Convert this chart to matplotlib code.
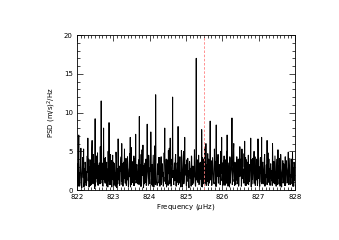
import numpy as np
import matplotlib
matplotlib.use("Agg")
import matplotlib.pyplot as plt
from matplotlib.ticker import MultipleLocator

# power spectrum from 822 to 828 muHz: main bins and the half-bins between them
f_start, f_step = 822.0, 1.0/120.0
psd = [
    1.2, 3.4, 0.5, 7.1, 2.2, 0.8, 4.1, 1.6, 0.3, 2.9, 3.7, 5.3, 1.1, 0.6, 3.2, 2.4, 0.9, 4.4, 6.7, 1.8,
    0.4, 2.7, 3.9, 1.3, 0.7, 6.4, 2.1, 4.6, 1.0, 0.2, 9.2, 3.1, 1.5, 2.6, 4.8, 0.6, 1.9, 3.5, 0.8, 2.3,
    11.5, 1.4, 3.3, 0.5, 8.0, 2.8, 1.2, 4.2, 0.9, 3.6, 1.7, 0.4, 2.5, 8.7, 3.0, 1.1, 0.7, 3.8, 2.0, 4.5,
    1.3, 0.6, 3.4, 2.2, 1.0, 4.0, 0.3, 2.7, 6.6, 1.5, 3.1, 0.8, 2.4, 4.3, 6.0, 1.2, 0.5, 3.6, 2.9, 1.7,
    0.9, 4.1, 2.0, 1.3, 3.5, 0.4, 2.6, 4.7, 6.8, 1.6, 0.7, 3.0, 2.3, 1.1, 4.4, 0.6, 2.8, 7.2, 1.4, 3.3,
    0.8, 2.1, 3.9, 9.5, 1.2, 0.5, 4.6, 2.5, 1.9, 5.8, 0.3, 3.2, 2.7, 1.0, 4.0, 1.6, 8.5, 2.2, 0.6, 3.7,
    1.4, 2.9, 7.5, 0.7, 3.3, 1.8, 4.5, 0.4, 2.4, 3.6, 12.3, 1.1, 0.9, 3.0, 2.0, 4.2, 1.5, 0.5, 2.8, 4.3,
    1.0, 3.4, 2.3, 0.6, 4.8, 8.0, 1.7, 2.6, 0.4, 3.9, 1.2, 5.1, 2.1, 0.8, 6.7, 3.2, 1.4, 4.0, 12.0, 2.5,
    0.7, 3.5, 1.9, 4.6, 0.5, 2.7, 3.1, 8.2, 1.3, 0.9, 4.3, 2.2, 1.6, 3.8, 0.4, 2.9, 5.0, 1.1, 6.8, 2.4,
    3.3, 0.6, 1.8, 4.1, 2.5, 0.3, 3.7, 1.5, 2.8, 4.4, 1.0, 0.7, 3.0, 2.2, 5.2, 1.3, 0.5, 17.0, 2.6, 3.9,
    1.2, 4.5, 0.8, 2.9, 3.6, 1.7, 7.8, 0.4, 2.3, 4.0, 1.4, 3.2, 0.9, 6.0, 2.7, 1.1, 4.7, 0.6, 3.4, 2.0,
    8.9, 1.5, 3.0, 0.7, 4.2, 2.4, 1.0, 5.3, 3.7, 0.5, 8.4, 2.1, 1.8, 4.6, 0.9, 3.3, 2.6, 1.2, 4.9, 6.8,
    2.0, 0.6, 3.8, 4.4, 1.3, 2.7, 0.8, 5.0, 7.1, 1.6, 3.5, 2.2, 0.4, 4.1, 1.9, 3.0, 9.3, 1.1, 2.8, 6.0,
    1.4, 3.6, 0.7, 2.5, 4.3, 1.0, 3.1, 0.5, 2.9, 5.6, 1.8, 4.0, 0.9, 3.4, 2.1, 1.2, 4.7, 6.3, 0.6, 2.6,
    3.9, 1.5, 0.8, 4.5, 2.3, 1.1, 3.2, 6.7, 0.4, 2.7, 4.1, 1.7, 3.5, 0.9, 4.3, 2.0, 1.3, 3.8, 0.6, 6.6,
    1.9, 3.0, 0.5, 4.2, 2.4, 6.8, 1.2, 3.6, 0.8, 2.2, 4.6, 1.5, 0.7, 3.3, 6.4, 2.0, 1.0, 4.0, 2.8, 0.6,
    3.4, 1.6, 2.5, 6.0, 0.9, 3.7, 1.3, 4.4, 2.1, 0.5, 3.1, 1.8, 5.2, 2.6, 0.8, 4.1, 1.4, 3.0, 0.4, 2.3,
    3.8, 1.1, 2.7, 0.6, 4.3, 1.9, 3.2, 0.9, 2.4, 4.9, 1.3, 3.6, 0.7, 2.0, 4.0, 1.6, 4.9, 2.9, 0.5, 3.3,
    1.7,
]
psd_mid = [
    2.6, 0.9, 3.8, 1.4, 0.5, 2.9, 5.4, 0.7, 2.1, 4.2, 1.6, 0.4, 2.8, 3.6, 1.0, 0.6, 3.1, 2.3, 1.2, 4.0,
    3.0, 1.1, 0.6, 2.4, 5.1, 1.7, 0.8, 2.9, 3.4, 1.5, 0.5, 2.2, 4.4, 1.0, 0.7, 3.2, 2.6, 1.3, 5.6, 0.9,
    1.9, 3.5, 0.6, 2.8, 1.4, 4.1, 0.9, 2.3, 3.0, 0.5, 2.7, 5.0, 1.2, 0.7, 2.5, 4.6, 1.8, 0.4, 3.3, 2.0,
    3.6, 1.0, 2.2, 0.5, 4.9, 1.6, 2.8, 0.8, 3.1, 1.3, 0.6, 2.6, 4.0, 1.1, 0.7, 3.4, 2.0, 1.5, 5.3, 0.9,
    2.5, 0.6, 3.2, 4.3, 1.2, 0.8, 2.9, 1.7, 0.4, 5.5, 2.3, 1.0, 3.7, 0.6, 2.1, 4.1, 1.4, 0.9, 3.0, 2.4,
    1.1, 3.6, 0.7, 2.6, 3.3, 1.5, 0.5, 5.2, 4.0, 1.2, 2.2, 0.8, 3.5, 1.8, 0.6, 2.7, 3.1, 1.0, 4.5, 1.6,
    0.8, 2.4, 3.7, 1.3, 0.5, 3.0, 2.1, 1.7, 5.7, 0.7, 2.8, 1.1, 0.6, 3.4, 2.5, 0.9, 4.2, 1.5, 2.0, 0.7,
    3.2, 1.8, 0.5, 2.9, 3.6, 1.1, 0.8, 4.0, 2.3, 1.4, 0.6, 3.1, 5.4, 1.0, 3.8, 0.5, 2.2, 3.3, 1.6, 0.9,
    2.7, 1.2, 4.1, 0.6, 2.4, 3.5, 1.0, 0.7, 2.9, 3.2, 1.5, 0.4, 5.1, 2.0, 1.3, 4.4, 0.8, 2.6, 1.9, 3.0,
    0.6, 3.9, 2.2, 1.1, 0.7, 3.4, 2.8, 1.6, 0.5, 4.3, 2.4, 3.1, 0.9, 1.7, 3.6, 0.6, 2.5, 1.3, 3.9, 1.0,
    2.3, 0.7, 3.5, 1.4, 2.8, 0.5, 3.1, 4.2, 1.2, 0.8, 2.6, 5.5, 1.0, 0.6, 3.3, 2.1, 1.7, 4.0, 0.9, 2.5,
    1.3, 3.8, 0.6, 2.4, 3.2, 1.1, 0.8, 3.6, 2.0, 1.5, 0.5, 4.1, 2.7, 0.9, 3.0, 1.8, 0.7, 5.0, 2.2, 1.2,
    3.5, 0.8, 2.6, 1.4, 0.6, 3.9, 2.3, 1.0, 3.1, 0.5, 2.8, 1.6, 4.3, 0.9, 2.4, 3.3, 0.7, 1.9, 5.2, 1.1,
    0.6, 2.9, 3.4, 1.3, 0.8, 2.5, 4.0, 0.7, 1.8, 3.2, 2.1, 0.5, 5.3, 1.5, 2.7, 0.9, 3.0, 1.2, 4.2, 0.6,
    2.2, 3.6, 1.0, 0.7, 3.3, 1.9, 2.6, 0.5, 3.9, 1.4, 0.8, 2.9, 5.0, 1.1, 0.6, 2.4, 4.0, 1.7, 0.9, 3.1,
    1.5, 0.6, 3.8, 2.2, 1.0, 0.8, 3.4, 2.7, 1.3, 4.1, 0.5, 2.0, 3.2, 1.6, 0.7, 4.8, 2.3, 1.1, 0.9, 3.0,
    2.5, 1.2, 0.6, 3.7, 1.8, 2.9, 0.8, 3.3, 1.0, 2.4, 4.0, 0.7, 1.5, 3.1, 2.6, 0.5, 4.6, 1.9, 1.1, 2.8,
    0.9, 3.4, 2.1, 1.4, 0.6, 3.8, 2.5, 1.0, 3.0, 0.7, 2.3, 4.1, 1.3, 0.8, 3.2, 1.7, 0.5, 2.7, 3.6, 1.2,
]
f_mark = 825.5

spec = np.empty(len(psd) + len(psd_mid))
spec[0::2] = psd
spec[1::2] = psd_mid
freq = f_start + f_step*np.arange(len(spec))

fig = plt.figure(figsize=(3.39, 2.40), dpi=100)
ax = fig.add_axes([0.227, 0.208, 0.643, 0.646])
ax.plot(freq, spec, color='black', lw=0.7)
ax.axvline(f_mark, color='#ff8080', lw=0.6, ls=(0, (3, 2)))

ax.set_xlim(822, 828)
ax.set_ylim(0, 20)
ax.xaxis.set_major_locator(MultipleLocator(1))
ax.xaxis.set_minor_locator(MultipleLocator(0.1))
ax.yaxis.set_major_locator(MultipleLocator(5))
ax.yaxis.set_minor_locator(MultipleLocator(1))
ax.tick_params(which='both', direction='in', top=True, right=True, labelsize=5, width=0.5, pad=3)
ax.tick_params(which='major', length=4)
ax.tick_params(which='minor', length=2)
for s in ax.spines.values():
    s.set_linewidth(0.6)
ax.set_xlabel('Frequency ($\\mu$Hz)', fontsize=5, labelpad=1)
ax.set_ylabel('PSD (m/s)$^2$/Hz', fontsize=5, labelpad=4)

fig.savefig('out.png', dpi=100)
